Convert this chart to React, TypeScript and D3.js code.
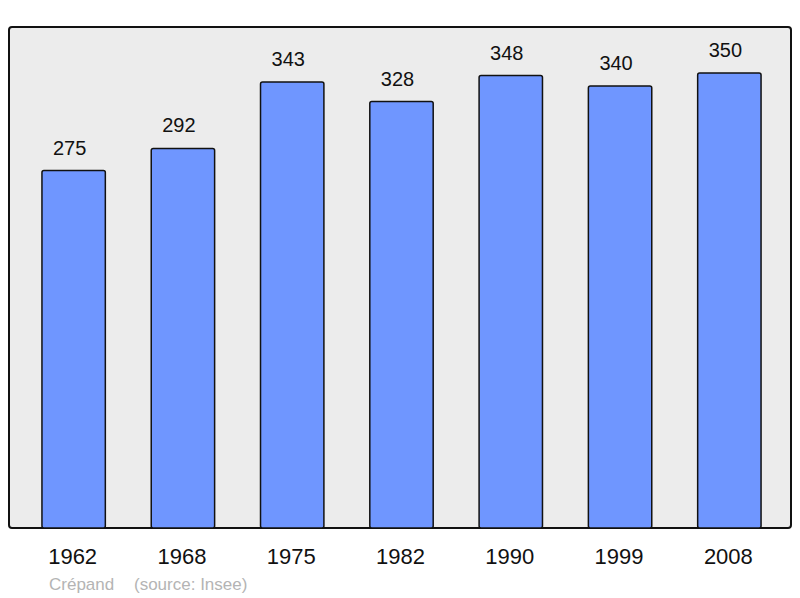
import React from "react";
import * as d3 from "d3";

const years = ["1962", "1968", "1975", "1982", "1990", "1999", "2008"];
const population = [275, 292, 343, 328, 348, 340, 350];
const credit = "Crépand";
const source = "(source: Insee)";

const W = 800;
const H = 598;
const PANEL = { left: 9, top: 27, right: 791, bottom: 528 };
const FONT = "'Liberation Sans', Arial, sans-serif";

export default function App() {
  const x = d3
    .scaleBand<string>()
    .domain(years)
    .range([19, 784])
    .paddingInner(0.42)
    .paddingOuter(0.21);

  const y = d3
    .scaleLinear()
    .domain([0, 385.4])
    .range([PANEL.bottom, PANEL.top]);

  return (
    <svg
      width={W}
      height={H}
      style={{ position: "absolute", left: 0, top: 0, fontFamily: FONT }}
    >
      <rect x={0} y={0} width={W} height={H} fill="#fff" />
      <rect
        x={PANEL.left}
        y={PANEL.top}
        width={PANEL.right - PANEL.left}
        height={PANEL.bottom - PANEL.top}
        rx={3}
        fill="#ececec"
        stroke="#111"
        strokeWidth={2}
      />
      {years.map((yr, i) => {
        const v = population[i];
        const bx = x(yr)!;
        const cx = bx + x.bandwidth() / 2;
        return (
          <g key={yr}>
            <rect
              x={bx}
              y={y(v)}
              width={x.bandwidth()}
              height={PANEL.bottom - y(v)}
              rx={2}
              fill="#6f96ff"
              stroke="#111"
              strokeWidth={1.5}
            />
            <text
              x={cx - 4}
              y={y(v) - 16}
              textAnchor="middle"
              fontSize={20}
              fill="#111"
            >
              {v}
            </text>
            <text
              x={cx - 1}
              y={564}
              textAnchor="middle"
              fontSize={22}
              fill="#111"
            >
              {yr}
            </text>
          </g>
        );
      })}
      <text x={49} y={590} fontSize={17} fill="#b4b4b4">
        {credit}
      </text>
      <text x={134} y={590} fontSize={17} fill="#b4b4b4">
        {source}
      </text>
    </svg>
  );
}
